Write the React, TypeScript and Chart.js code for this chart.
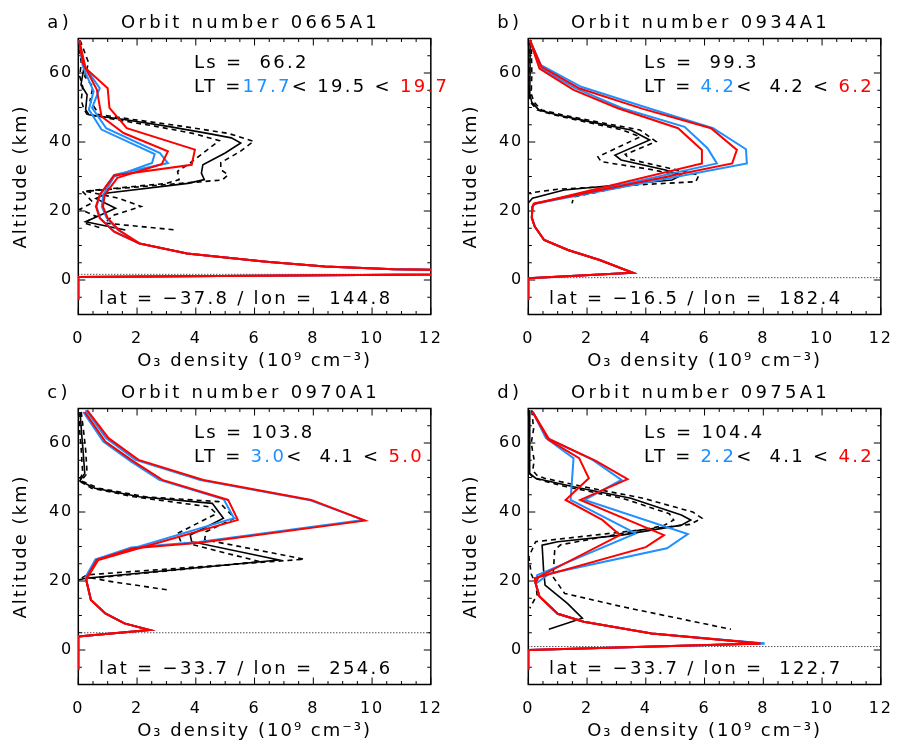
import { useEffect, useRef } from 'react';
import { Chart, registerables } from 'chart.js';

Chart.register(...registerables);
Chart.defaults.font.family = "'DejaVu Sans', sans-serif";
Chart.defaults.color = '#000';

type P = [number, number][];

// ---------- axis ticks ----------
const X_TICKS = [0, 2, 4, 6, 8, 10, 12];
const Y_TICKS = [0, 20, 40, 60];

// ---------- panel meta ----------
const LETTERS = ['a)', 'b)', 'c)', 'd)'];
const ORBITS = ['0665A1', '0934A1', '0970A1', '0975A1'];
const LS = [66.2, 99.3, 103.8, 104.4];
const LT_BLUE = [17.7, 4.2, 3.0, 2.2];
const LT_MID = [19.5, 4.2, 4.1, 4.1];
const LT_RED = [19.7, 6.2, 5.0, 4.2];
const LAT = [-37.8, -16.5, -33.7, -33.7];
const LON = [144.8, 182.4, 254.6, 122.7];
const DOTTED_ALT = [1.65, 0.67, 5.0, 1.0];

// ---------- panel a (x = O3 density, y = altitude) ----------
const A_RED_1: P = [[0.03,69.5],[0.25,61.4],[1.0,55.6],[1.06,49.9],[1.65,44],[3.97,37.8],[3.86,33.4],[1.22,30.3],[0.73,24.7],[0.6,21.3],[0.73,17.9],[1.22,14]];
const A_RED_2: P = [[0.03,69.5],[0.15,63],[0.63,55.2],[0.79,47.4],[1.54,42.6],[3.05,37.3],[2.84,33.6],[1.33,29.6],[0.9,24.7],[0.84,21.3],[1.0,17.9],[1.38,14.5]];
const A_BLUE_1: P = [[0.03,69.5],[0.2,62],[0.73,55.6],[0.47,49.9],[0.95,44],[2.78,36.8],[3.05,33.9],[1.22,30.5],[0.75,24.7],[0.62,21.3],[0.75,17.9],[1.22,14]];
const A_BLUE_2: P = [[0.03,69.5],[0.15,62],[0.52,54.7],[0.36,49.4],[0.79,43.6],[2.6,36.5],[2.51,33.9],[1.22,30],[0.85,24.7],[0.8,21.3],[0.97,17.9],[1.35,14.5]];
const A_LOW: P = [[2.08,10.6],[3.7,7.7],[6.4,5.3],[8.4,3.9],[10.75,3.1],[20,2.0],[0,0.9],[0,-5.8]];
const A_OBS: P = [[0.03,69.5],[0.19,61.4],[0.09,56.6],[0.3,53.7],[0.25,49.4],[0.36,47.9],[1.5,46.6],[3.0,44.6],[4.4,42.5],[5.21,41.2],[5.53,39.7],[5.0,36.8],[4.24,33.4],[4.19,31],[4.29,29.1],[3.73,28],[1.0,25.2],[0.6,23.6],[1.27,20.8],[0.25,16.9],[1.6,14.5]];
const A_OBS_HI: P = [[0.06,69.5],[0.35,63],[0.22,59],[0.5,56],[0.4,52],[0.6,49.4],[0.65,48],[1.8,46.6],[3.5,44.6],[5.1,42.5],[5.97,40.2],[5.5,37.2],[4.85,34],[4.85,32],[5.1,30.5],[4.9,29],[0.25,25.7],[1.38,23.7],[2.14,21.3],[1.2,18.8],[0.9,16.5],[3.32,14.5]];
const A_OBS_LO: P = [[0.0,69.5],[0.1,63],[0.05,59],[0.15,56],[0.1,52],[0.2,49.4],[0.3,48],[1.2,46.6],[2.6,44.6],[3.9,42.5],[4.8,40.4],[4.2,36.5],[3.8,33.9],[3.38,31.5],[3.43,29.1],[3.0,28],[0.14,25.7],[0.5,22.5],[0.05,20.5],[0.6,18.5],[0.2,16.5],[0.8,15]];

// ---------- panel b ----------
const B_RED_1: P = [[0.05,69.6],[0.45,61.8],[1.75,55.5],[3.9,49.6],[6.22,44],[7.1,37.7],[6.94,33.8],[0.2,22.2]];
const B_RED_2: P = [[0.05,69.6],[0.38,61.3],[1.54,55.1],[3.05,49.8],[5.1,44],[5.91,37.7],[5.91,33.8],[0.18,22]];
const B_BLUE_1: P = [[0.05,69.6],[0.43,62.3],[1.8,56],[4.1,49.8],[6.29,44],[7.41,37.9],[7.44,33.8],[0.25,22.2]];
const B_BLUE_2: P = [[0.05,69.6],[0.4,61.5],[1.6,55.6],[3.2,49.8],[5.32,44.4],[6.1,38.2],[6.42,33.8],[0.2,22]];
const B_LOW: P = [[0.14,21.2],[0.12,18],[0.22,15.5],[0.54,11.6],[1.35,8.7],[2.43,5.8],[3.56,2.1],[0,0.5],[0,-5.8]];
const B_OBS: P = [[0.06,69.5],[0.06,60],[0.05,54],[0.12,51.5],[0.36,49.3],[1.0,47.8],[2.08,45.9],[3.49,43.5],[4.13,40.6],[2.95,36.2],[3.16,34.8],[4.67,31.9],[5.21,30.4],[4.89,29],[1.22,26.1],[0.14,23.7],[0,22.3]];
const B_OBS_HI: P = [[0.1,69.5],[0.12,60],[0.1,54],[0.2,51.5],[0.45,49.3],[1.2,47.8],[2.3,45.9],[3.8,43.5],[4.35,40.1],[3.3,36.4],[3.45,35],[5.0,32],[5.81,30.4],[5.7,28.5],[1.0,26.3],[0,25.2]];
const B_OBS_LO: P = [[0.02,69.5],[0.03,60],[0.02,54],[0.08,51.5],[0.3,49.3],[0.9,47.8],[1.9,45.9],[3.2,43.5],[3.81,41.5],[2.37,35.7],[2.48,34.3],[4.2,32],[5.0,30.6],[4.5,29.2],[1.54,24.1],[1.49,22.2]];

// ---------- panel c ----------
const C_RED_1: P = [[0.3,69.5],[1.03,61.4],[2.05,55.1],[4.26,49.3],[7.93,43.5],[9.76,37.5],[4.13,31.1],[1.87,29.5],[0.63,26.1],[0.3,21.2]];
const C_RED_2: P = [[0.22,69],[0.92,60.4],[1.89,54.6],[2.86,49.3],[5.1,43.5],[5.43,37.7],[0.68,26.1],[0.35,21.5]];
const C_BLUE_1: P = [[0.25,69.5],[0.95,61.4],[1.95,55.1],[4.15,49.3],[7.85,43.5],[9.7,37.7],[4.1,31.3],[1.8,29.7],[0.58,26.2],[0.25,21.2]];
const C_BLUE_2: P = [[0.17,69],[0.85,60.4],[1.8,54.6],[2.76,49.3],[4.95,43.7],[5.3,38.2],[0.6,26.3],[0.3,21.5]];
const C_LOW: P = [[0.27,20.3],[0.43,14.5],[0.92,10.6],[1.57,7.7],[2.43,5.8],[0,3.9],[0,-5.8]];
const C_OBS: P = [[0.06,69],[0.12,62],[0.16,58],[0.22,51.2],[0.05,49],[0.57,46.9],[2.08,44.4],[4.56,42.5],[4.94,38.2],[3.81,33.3],[3.86,31.4],[6.83,26.1],[0.25,20.8],[0,20.3]];
const C_OBS_HI: P = [[0.1,69],[0.2,62],[0.25,58],[0.3,51.2],[0.1,49],[0.7,46.9],[2.3,44.4],[4.78,43],[5.32,38.2],[4.35,34.3],[4.3,32],[7.69,26.3],[0.3,21.8],[0.03,20.5]];
const C_OBS_LO: P = [[0.02,69],[0.06,62],[0.1,58],[0.15,51.2],[0.02,49],[0.45,46.9],[1.9,44.4],[4.46,41.5],[4.7,39.5],[3.38,33.8],[3.49,31.4],[6.18,25.6],[0.5,20.8],[1.0,20],[3.05,17.4]];

// ---------- panel d ----------
const D_RED_1: P = [[0.15,69],[0.7,61.2],[2.3,54.8],[3.38,49.5],[1.77,43.5],[4.62,33.3],[4.0,29.8],[0.22,20.8]];
const D_RED_2: P = [[0.15,69],[0.68,61],[1.73,55.6],[2.06,49.8],[1.27,43.5],[2.52,37.7],[3.12,33.3],[0.35,21.2]];
const D_BLUE_1: P = [[0.15,69],[0.65,61.4],[2.19,55.1],[3.17,49.3],[1.92,43.5],[5.43,33.6],[4.72,29.5],[0.73,22.2],[0.3,19.5]];
const D_BLUE_2: P = [[0.15,69],[0.6,61.4],[1.54,55.6],[1.44,43.5],[3.66,33.8],[0.3,21.7]];
const D_LOW_RED: P = [[0.25,19.3],[0.38,15.5],[1.0,10.5],[1.89,8.2],[4.2,4.8],[7.9,1.9],[0,0],[0,-5.8]];
const D_LOW_BLUE: P = [[0.25,19.3],[0.38,15.5],[1.0,10.5],[1.89,8.2],[4.2,4.8],[8.04,1.9],[0,0],[0,-5.8]];
const D_OBS: P = [[0.05,69.5],[0.05,60],[0.04,53],[0.05,51.2],[0.25,49.8],[1.54,47.3],[3.49,44],[5.21,39.1],[5.53,37.7],[5.21,36.2],[3.17,33.3],[1.0,31.4],[0.47,30.4],[0.52,23.2],[0.57,18.8],[1.33,13.5],[1.84,9.2],[0.7,6.0]];
const D_OBS_HI: P = [[0.12,69.5],[0.18,64],[0.1,60],[0.2,55],[0.15,52],[0.3,50.6],[0.55,49.8],[1.9,47.3],[3.9,44],[5.6,40],[5.91,38.2],[5.5,36.4],[0.25,31.4],[0.02,27],[0.1,22],[0.25,19.3],[0.3,16],[0.05,12.1]];
const D_OBS_LO: P = [[0.02,69.5],[0.03,60],[0.02,53],[0.04,51.2],[0.18,49.8],[1.3,47.3],[3.2,44],[4.8,39.5],[4.95,37.7],[4.6,36],[1.1,30.5],[0.9,29],[0.84,21.2],[1.24,16.4],[3.17,12.6],[6.9,6]];

const PANEL_LINES = [
  { red: [A_RED_1, A_RED_2], blue: [A_BLUE_1, A_BLUE_2], lowRed: A_LOW, lowBlue: A_LOW, obs: A_OBS, hi: A_OBS_HI, lo: A_OBS_LO },
  { red: [B_RED_1, B_RED_2], blue: [B_BLUE_1, B_BLUE_2], lowRed: B_LOW, lowBlue: B_LOW, obs: B_OBS, hi: B_OBS_HI, lo: B_OBS_LO },
  { red: [C_RED_1, C_RED_2], blue: [C_BLUE_1, C_BLUE_2], lowRed: C_LOW, lowBlue: C_LOW, obs: C_OBS, hi: C_OBS_HI, lo: C_OBS_LO },
  { red: [D_RED_1, D_RED_2], blue: [D_BLUE_1, D_BLUE_2], lowRed: D_LOW_RED, lowBlue: D_LOW_BLUE, obs: D_OBS, hi: D_OBS_HI, lo: D_OBS_LO },
];

// ---------- layout ----------
const CANVAS_W = 456;
const CANVAS_H = 373;
const PANEL_POS = [[0, 0], [450, 0], [0, 370], [450, 370]];
const PAD_RIGHT = [7, 8, 7, 8];
const X_MIN = 0, X_MAX = 12, Y_MIN = -10, Y_MAX = 70;
const RED = '#ff0000';
const BLUE = '#1e90ff';

const pts = (a: P) => a.map(([x, y]) => ({ x, y }));
const pad = (s: string, n: number) => (s.length >= n ? s : ' '.repeat(n - s.length) + s);
const fmt = (v: number) => v.toFixed(1).replace('-', '\u2212');

function framePlugin() {
  return {
    id: 'frame',
    beforeDraw(chart: any) {
      chart.ctx.letterSpacing = '2px';
    },
    beforeDatasetsDraw(chart: any) {
      const { ctx, chartArea: ca, scales } = chart;
      const xs = scales.x, ys = scales.y;
      ctx.save();
      ctx.strokeStyle = '#000';
      ctx.lineWidth = 1;
      ctx.beginPath();
      for (let v = X_MIN; v <= X_MAX + 1e-6; v += 0.5) {
        const px = xs.getPixelForValue(v);
        const L = Math.abs(v % 2) < 1e-6 ? 7 : 3.5;
        ctx.moveTo(px, ca.bottom); ctx.lineTo(px, ca.bottom - L);
        ctx.moveTo(px, ca.top); ctx.lineTo(px, ca.top + L);
      }
      for (let v = Y_MIN; v <= Y_MAX + 1e-6; v += 5) {
        const py = ys.getPixelForValue(v);
        const L = Math.abs(v % 20) < 1e-6 ? 7 : 3.5;
        ctx.moveTo(ca.left, py); ctx.lineTo(ca.left + L, py);
        ctx.moveTo(ca.right, py); ctx.lineTo(ca.right - L, py);
      }
      ctx.stroke();
      ctx.lineWidth = 1.5;
      ctx.strokeRect(ca.left, ca.top, ca.right - ca.left, ca.bottom - ca.top);
      ctx.restore();
    },
  };
}

function textPlugin(i: number) {
  return {
    id: 'annot',
    afterDraw(chart: any) {
      const { ctx, chartArea: ca, scales } = chart;
      const xs = scales.x, ys = scales.y;
      ctx.save();
      ctx.fillStyle = '#000';
      ctx.textBaseline = 'alphabetic';
      ctx.font = "18px 'DejaVu Sans'";
      ctx.letterSpacing = '3.3px';
      ctx.textAlign = 'left';
      ctx.fillText(LETTERS[i], ca.left - 31, 27.5);
      ctx.textAlign = 'center';
      ctx.fillText('Orbit number ' + ORBITS[i], (ca.left + ca.right) / 2 - 4, 27.5);

      ctx.letterSpacing = '2.3px';
      ctx.textAlign = 'left';
      const x0 = xs.getPixelForValue(3.94);
      ctx.fillText('Ls = ' + pad(LS[i].toFixed(1), 5), x0, ys.getPixelForValue(61.4));
      const segs: [string, string][] = [
        ['LT =', '#000'],
        [pad(LT_BLUE[i].toFixed(1), 4), BLUE],
        ['< ' + pad(LT_MID[i].toFixed(1), 4) + ' < ', '#000'],
        [LT_RED[i].toFixed(1), RED],
      ];
      let x = x0;
      const yLT = ys.getPixelForValue(54.5);
      for (const [s, c] of segs) {
        ctx.fillStyle = c;
        ctx.fillText(s, x, yLT);
        x += ctx.measureText(s).width;
      }
      ctx.fillStyle = '#000';
      ctx.textAlign = 'center';
      ctx.fillText('lat = ' + fmt(LAT[i]) + ' / lon = ' + pad(fmt(LON[i]), 6), xs.getPixelForValue(5.7), ys.getPixelForValue(-7));
      ctx.restore();
    },
  };
}

function buildConfig(i: number): any {
  const L = PANEL_LINES[i];
  const line = (data: P, color: string, width: number, dash: number[] = []) => ({
    data: pts(data),
    borderColor: color,
    borderWidth: width,
    borderDash: dash,
    showLine: true,
    pointRadius: 0,
    fill: false,
    tension: 0,
  });
  const datasets = [
    line(L.red[0].concat(L.lowRed), RED, 2),
    line(L.red[1].concat(L.lowRed), RED, 2),
    line(L.blue[0].concat(L.lowBlue), BLUE, 2),
    line(L.blue[1].concat(L.lowBlue), BLUE, 2),
    line(L.obs, '#000', 1.6),
    line(L.hi, '#000', 1.6, [5, 4]),
    line(L.lo, '#000', 1.6, [5, 4]),
    line([[X_MIN, DOTTED_ALT[i]], [X_MAX, DOTTED_ALT[i]]], '#000', 1, [1, 2]),
  ];
  return {
    type: 'scatter',
    data: { datasets },
    options: {
      animation: false,
      responsive: false,
      events: [],
      layout: { padding: { left: 0, top: 38.5, right: PAD_RIGHT[i], bottom: 0 } },
      plugins: { legend: { display: false }, tooltip: { enabled: false }, title: { display: false } },
      scales: {
        x: {
          type: 'linear', min: X_MIN, max: X_MAX,
          grid: { display: false, drawTicks: false },
          border: { display: false },
          ticks: { font: { size: 16 }, padding: 15, color: '#000', maxRotation: 0 },
          afterBuildTicks: (s: any) => { s.ticks = X_TICKS.map((v) => ({ value: v })); },
          afterFit: (s: any) => { s.height = CANVAS_H - 314.5; },
          title: { display: true, text: 'O\u2083 density (10\u2079 cm\u207B\u00B3)', font: { size: 18 }, color: '#000', padding: { top: 0, bottom: 1 } },
        },
        y: {
          type: 'linear', min: Y_MIN, max: Y_MAX,
          grid: { display: false, drawTicks: false },
          border: { display: false },
          ticks: { font: { size: 16 }, padding: 5, color: '#000' },
          afterBuildTicks: (s: any) => { s.ticks = Y_TICKS.map((v) => ({ value: v })); },
          afterFit: (s: any) => { s.width = 78.3; },
          title: { display: true, text: 'Altitude (km)', font: { size: 18 }, color: '#000', padding: { top: 11, bottom: 0 } },
        },
      },
    },
    plugins: [framePlugin(), textPlugin(i)],
  };
}

function Panel({ i }: { i: number }) {
  const ref = useRef<HTMLCanvasElement>(null);
  useEffect(() => {
    const chart = new Chart(ref.current!, buildConfig(i));
    return () => chart.destroy();
  }, [i]);
  const [left, top] = PANEL_POS[i];
  return (
    <canvas
      ref={ref}
      width={CANVAS_W}
      height={CANVAS_H}
      style={{ position: 'absolute', left, top, width: CANVAS_W, height: CANVAS_H }}
    />
  );
}

export default function App() {
  return (
    <div style={{ position: 'absolute', left: 0, top: 0, width: 912, height: 747, background: '#fff', overflow: 'hidden' }}>
      {[0, 1, 2, 3].map((i) => (
        <Panel key={i} i={i} />
      ))}
    </div>
  );
}
